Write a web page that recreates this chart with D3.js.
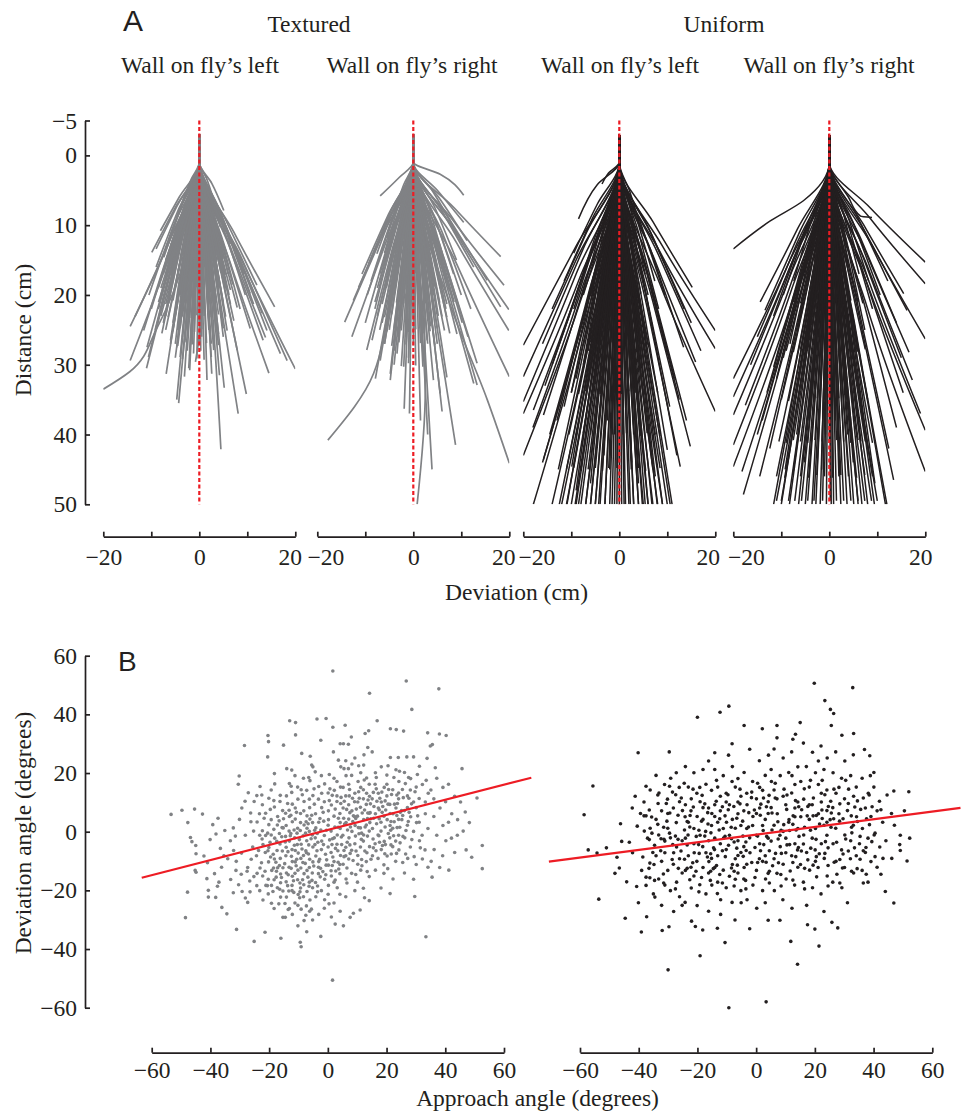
<!DOCTYPE html>
<html>
<head>
<meta charset="utf-8">
<script src="https://cdn.jsdelivr.net/npm/d3@7"></script>
<style>
body { margin: 0; background: #fff; }
text { font-family: "Liberation Serif", "Times New Roman", serif; font-size: 23.5px; fill: #231f20; }
.panel-letter { font-family: "Liberation Sans", Arial, sans-serif; }
.axis path, .axis line { stroke: #231f20; stroke-width: 1.7; }
.axis text { font-family: "Liberation Serif", "Times New Roman", serif; font-size: 23.5px; fill: #231f20; }
</style>
</head>
<body>
<div id="chart"></div>
<script>
// ---- panel A: trajectories, [deviation cm, distance cm], after the common start
var stem = [[0, -3], [0, 1]];

var texLeft = [
  [[-9,25],[-14.5,31],[-20,33.5]], [[-6.5,15],[-14.4,29.4]], [[-6,12],[-14.4,24.5]], [[-5.8,11.5],[-13.4,23.1]],
  [[-5,7.5],[-9.9,13.9]], [[-4.6,7.2],[-9,13.4]], [[-4.2,6],[-8.1,10.8]], [[-5.5,15.5],[-11,30.5]],
  [[-3.5,16],[-6.9,31.3]], [[-2.4,18],[-4.7,35]], [[-2,18],[-4.3,35.5]], [[-1.6,16],[-3.1,31.7]],
  [[-1,15.5],[-2.2,30.5]], [[0.8,15],[0.3,24],[-0.8,29.6]], [[2.6,21],[4.5,42.1]], [[3.8,18.5],[8.1,37]],
  [[4.6,17],[9.8,34.2]], [[2.6,16.5],[5.2,33.3]], [[2.2,15.5],[4.2,31.5]], [[6.5,15.5],[14.5,31.2]],
  [[8.5,14.5],[20,30.6]], [[6.4,13],[13.8,26.1]], [[7.2,11],[15.7,21.7]], [[6.2,11.2],[13.1,22.6]],
  [[5.6,9.4],[12,18.6]], [[3.8,14],[7.9,27.9]], [[-5.2,14.5],[-10.6,28.9]], [[6.4,13.3],[13.3,26.5]],
  [[5,12.4],[10.6,24.8]], [[3.8,11],[7.9,21.8]], [[3.5,12],[7.2,23.7]], [[2.8,12.6],[5.8,25.1]],
  [[2,12.8],[4,25.6]], [[1.6,14],[3,27.9]], [[1.4,15.6],[2.6,31.3]], [[0.9,16],[1.6,32.2]],
  [[-0.6,14.2],[-1.2,28.4]], [[-1,15.4],[-2,30.8]], [[-2,14.5],[-4,28.9]], [[-2.4,13.8],[-4.7,27.5]],
  [[-3,13.3],[-6,26.5]], [[-3.9,12.8],[-7.8,25.5]], [[-4.6,12.5],[-9.2,25]], [[-5.4,13.8],[-10.9,27.5]],
  [[-5.8,12.6],[-11.6,25.1]], [[-4.3,9.5],[-8.5,18.9]], [[-3.7,7.3],[-7.4,14.6]], [[-3.2,6.1],[-6.4,12.2]],
  [[-2.3,4.5],[-4.7,8.9]], [[-1.6,3.3],[-3.3,6.5]], [[1.5,3.3],[3,6.5]], [[2.2,5.2],[4.4,10.3]],
  [[2.6,4],[5.1,7.9]], [[3.2,6.4],[6.5,12.7]], [[3.9,7.3],[7.9,14.6]], [[4.6,8.5],[9.3,17]],
  [[5.3,9.9],[10.6,19.8]], [[5.6,10.7],[11.3,21.3]], [[7,12.6],[14.1,25.1]], [[8,14.2],[16.9,28.4]],
  [[8.8,14.7],[18.3,29.4]], [[-3.6,8.5],[-7,17]], [[-3,9],[-6,18]], [[-2.5,9.5],[-5,19]],
  [[-2,10],[-4,20]], [[-1.5,10.5],[-3,21]], [[-1,11],[-2,22]], [[-0.5,11.5],[-1,23]],
  [[0,12],[0,24]], [[0.5,11],[1,22]], [[1,10.5],[2,21]], [[1.5,10],[3,20]],
  [[2,9.5],[4,19]], [[2.5,9],[5,18]], [[3,8.5],[6,17]], [[-4,10],[-8,20]],
  [[-4.2,11],[-8.5,22]], [[-3.4,11.5],[-7,23]], [[-2.8,12],[-5.5,24]], [[-2.2,12.5],[-4.5,25]],
  [[-1.6,13],[-3.5,26]], [[-0.8,12.5],[-1.5,25]], [[0.4,13],[0.5,26]], [[1,12],[2,24]],
  [[1.7,11.5],[3.5,23]], [[2.4,10.7],[5,21.5]], [[3,10],[6.2,20]], [[3.4,9.3],[7,18.5]],
  [[-4.5,8],[-9,16]], [[-3.2,7.5],[-6.5,15]], [[-1.8,8],[-3.5,16]], [[-0.6,8.5],[-1.2,17]],
  [[0.6,8],[1.2,16]], [[1.8,7.5],[3.6,15]], [[-2.6,13.5],[-5,27]], [[-1.2,14],[-2.5,28]],
  [[0.2,14],[0.3,28]], [[1.2,13.5],[2.5,27]], [[2.6,13],[5,26]], [[-3.8,12],[-7.5,24]],
  [[-5,11],[-10,22]], [[-5.3,10],[-10.5,20]], [[4.2,11],[8.5,22]], [[4.8,10],[9.6,20]],
  [[-2.7,6.5],[-6,13]], [[-2,6.6],[-4.5,13.2]], [[-1.35,6.4],[-3,12.8]], [[-0.7,6.5],[-1.5,13]],
  [[0,6.6],[0,13.1]], [[0.7,6.4],[1.5,12.9]], [[1.35,6.5],[3,13]], [[1.9,6.6],[4.2,13.2]],
  [[-3.15,7.5],[-7,15]], [[-2.5,7.6],[-5.5,15.2]], [[-1.8,7.4],[-4,14.8]], [[-1.1,7.5],[-2.5,15]],
  [[-0.45,7.6],[-1,15.3]], [[0.2,7.4],[0.5,14.9]], [[0.9,7.5],[2,15.1]], [[1.6,7.6],[3.5,15.2]],
  [[2.25,7.4],[5,14.8]], [[-3.4,8.5],[-7.5,17]], [[-2.7,8.6],[-6,17.2]], [[-2,8.4],[-4.5,16.8]],
  [[-1.35,8.5],[-3,17.1]], [[-0.7,8.6],[-1.5,17.3]], [[0,8.4],[0,16.9]], [[0.7,8.5],[1.5,17]],
  [[1.35,8.6],[3,17.2]], [[2,8.4],[4.5,16.8]], [[2.5,8.5],[5.5,17.1]], [[-3.6,9.5],[-8,19]],
  [[-2.9,9.6],[-6.5,19.3]], [[-2.25,9.4],[-5,18.8]], [[-1.6,9.5],[-3.5,19.1]], [[-0.9,9.6],[-2,19.2]],
  [[-0.2,9.4],[-0.5,18.9]], [[0.45,9.5],[1,19]], [[1.1,9.6],[2.5,19.2]], [[1.8,9.4],[4,18.8]],
  [[2.5,9.5],[5.5,19.1]], [[2.9,9.6],[6.5,19.3]], [[-3.8,10.5],[-8.5,21]], [[-3.15,10.6],[-7,21.3]],
  [[-2.5,10.4],[-5.5,20.8]], [[-1.8,10.5],[-4,21.1]], [[-1.1,10.6],[-2.5,21.2]], [[-0.45,10.4],[-1,20.9]],
  [[0.2,10.5],[0.5,21]], [[0.9,10.6],[2,21.2]], [[1.6,10.4],[3.5,20.8]], [[2.25,10.5],[5,21.1]],
  [[2.9,10.6],[6.5,21.3]], [[-3.6,11.5],[-8,23]], [[-2.9,11.6],[-6.5,23.2]], [[-2.25,11.4],[-5,22.8]],
  [[-1.6,11.5],[-3.5,23.1]], [[-0.9,11.6],[-2,23.3]], [[-0.2,11.4],[-0.5,22.9]], [[0.45,11.5],[1,23]],
  [[1.1,11.6],[2.5,23.2]], [[1.8,11.4],[4,22.8]], [[2.5,11.5],[5.5,23.1]], [[-3.15,12.5],[-7,25]],
  [[-2.5,12.6],[-5.5,25.2]], [[-1.8,12.4],[-4,24.8]], [[-1.1,12.5],[-2.5,25.1]], [[-0.45,12.6],[-1,25.3]],
  [[0.2,12.4],[0.5,24.9]], [[0.9,12.5],[2,25]], [[1.6,12.6],[3.5,25.2]], [[2.25,12.4],[5,24.8]],
  [[-2.7,13.5],[-6,27]], [[-2,13.6],[-4.5,27.3]], [[-1.35,13.4],[-3,26.8]], [[-0.7,13.5],[-1.5,27.1]],
  [[0,13.6],[0,27.2]], [[0.7,13.4],[1.5,26.9]], [[1.35,13.5],[3,27]], [[1.8,13.6],[4,27.2]],
  [[-2.25,14.5],[-5,29]], [[-1.6,14.6],[-3.5,29.2]], [[-0.9,14.4],[-2,28.8]], [[-0.2,14.5],[-0.5,29.1]],
  [[0.45,14.6],[1,29.3]], [[1.1,14.4],[2.5,28.9]]
];

var texRight = [
  [[-3,3.2],[-6.9,5.8]], [[5.6,2.7],[10.5,5.7]], [[5,5],[10.5,9.6]], [[8.5,7.5],[18.2,14.5]],
  [[8.5,9.5],[18.9,18.6]], [[9,11],[19.9,22.1]], [[9,12.5],[19.9,25.1]], [[9,15.5],[20,31.7]],
  [[8,22],[15.4,35],[20,44.1]], [[4,20.5],[8.8,41.5]], [[2,22.5],[3.9,45]], [[2,18],[2.5,33.6],[0.8,50]],
  [[-5.2,8.5],[-10.7,17]], [[-6.8,12],[-14.3,23.9]], [[-6,13],[-12.8,26]], [[-4.6,14],[-9.7,27.9]],
  [[-3.7,16],[-7.9,32]], [[-2.3,16],[-4.8,32.2]], [[-0.9,18],[-1.9,36.3]], [[-4.2,17],[-8.3,31.3],[-17.8,40.8]],
  [[3,18.3],[6,36.7]], [[6.4,16.5],[13.3,32.9]], [[6.5,15],[13.3,29.8]], [[6,16.3],[12.6,32.7]],
  [[4.4,12.8],[9.1,25.6]], [[3.4,16],[7,31.8]], [[2.7,17],[5.6,34.1]], [[2,16],[4.2,32.2]],
  [[1.4,13.2],[2.9,26.5]], [[-1,15.1],[-2,30.3]], [[-1.6,14.2],[-3.4,28.4]], [[-2.3,15.6],[-4.8,31.3]],
  [[-3.3,14.7],[-6.9,29.4]], [[-4.1,13.2],[-8.6,26.5]], [[-6,10.4],[-12.5,20.8]], [[-5.4,9.4],[-11.4,18.9]],
  [[-4.5,7.7],[-9.3,15.5]], [[-3.7,7],[-7.6,14.1]], [[-2.7,5.9],[-5.5,11.8]], [[-2,4.2],[-4.1,8.4]],
  [[-1.3,3.5],[-2.7,7]], [[4,5.1],[8.4,10.3]], [[5.4,6.1],[11.2,12.2]], [[6,8],[12.6,16]],
  [[7.4,9],[15.4,17.9]], [[8.6,10.8],[18.2,21.7]], [[0.8,19],[1.5,38]], [[1.5,20],[3,40]],
  [[-0.4,19],[-0.8,37]], [[-3.5,9],[-7,18]], [[-2.8,9.5],[-5.6,19]], [[-2.1,10],[-4.2,20]],
  [[-1.4,10.5],[-2.8,21]], [[-0.7,11],[-1.4,22]], [[0,11.5],[0,23]], [[0.7,11],[1.4,22]],
  [[1.4,10.5],[2.8,21]], [[2.1,10],[4.2,20]], [[2.8,9.5],[5.6,19]], [[3.5,9],[7,18]],
  [[4.2,8.5],[8.4,17]], [[-4,11],[-8,22]], [[-3.2,12],[-6.5,24]], [[-2.4,12.5],[-5,25]],
  [[-1.6,13],[-3.2,26]], [[-0.8,13],[-1.6,26]], [[0.2,12.5],[0.4,25]], [[1,12.8],[2,25.5]],
  [[1.8,12.2],[3.6,24.5]], [[2.6,11.5],[5.2,23]], [[3.4,11],[6.8,22]], [[4.2,10.5],[8.5,21]],
  [[5,10],[10,20]], [[-4.8,10],[-9.6,20]], [[-4.4,9],[-8.8,18]], [[-3,7],[-6,14]],
  [[-1.5,7.5],[-3,15]], [[0,8],[0,16]], [[1.5,7.5],[3,15]], [[3,7],[6,14]],
  [[4.5,7.5],[9,15]], [[-2,14],[-4,28]], [[-0.5,14.5],[-1,29]], [[1,14.2],[2,28.5]],
  [[2.5,13.5],[5,27]], [[3.8,12.8],[7.6,25.5]], [[5,12],[10.2,24]], [[-3,13.5],[-6,27]],
  [[-5,12],[-10,24]], [[6,11],[12,22]], [[5.6,13],[11.4,26]],
  [[-2.25,6.5],[-5,13]], [[-1.6,6.6],[-3.5,13.2]], [[-0.9,6.4],[-2,12.8]], [[-0.2,6.5],[-0.5,13]],
  [[0.45,6.6],[1,13.1]], [[1.1,6.4],[2.5,12.9]], [[1.8,6.5],[4,13]], [[2.25,6.6],[5,13.2]],
  [[-2.7,7.5],[-6,15]], [[-2,7.6],[-4.5,15.2]], [[-1.35,7.4],[-3,14.8]], [[-0.7,7.5],[-1.5,15.1]],
  [[0,7.6],[0,15.2]], [[0.7,7.4],[1.5,14.9]], [[1.35,7.5],[3,15]], [[2,7.6],[4.5,15.2]],
  [[2.7,7.4],[6,14.8]], [[-3.15,8.5],[-7,17]], [[-2.5,8.6],[-5.5,17.2]], [[-1.8,8.4],[-4,16.8]],
  [[-1.1,8.5],[-2.5,17.1]], [[-0.45,8.6],[-1,17.3]], [[0.2,8.4],[0.5,16.9]], [[0.9,8.5],[2,17]],
  [[1.6,8.6],[3.5,17.2]], [[2.25,8.4],[5,16.8]], [[2.9,8.5],[6.5,17.1]], [[-3.4,9.5],[-7.5,19]],
  [[-2.7,9.6],[-6,19.3]], [[-2,9.4],[-4.5,18.8]], [[-1.35,9.5],[-3,19.1]], [[-0.7,9.6],[-1.5,19.2]],
  [[0,9.4],[0,18.9]], [[0.7,9.5],[1.5,19]], [[1.35,9.6],[3,19.2]], [[2,9.4],[4.5,18.8]],
  [[2.7,9.5],[6,19.1]], [[3.4,9.6],[7.5,19.3]], [[-3.6,10.5],[-8,21]], [[-2.9,10.6],[-6.5,21.3]],
  [[-2.25,10.4],[-5,20.8]], [[-1.6,10.5],[-3.5,21.1]], [[-0.9,10.6],[-2,21.2]], [[-0.2,10.4],[-0.5,20.9]],
  [[0.45,10.5],[1,21]], [[1.1,10.6],[2.5,21.2]], [[1.8,10.4],[4,20.8]], [[2.5,10.5],[5.5,21.1]],
  [[3.15,10.6],[7,21.3]], [[-3.4,11.5],[-7.5,23]], [[-2.7,11.6],[-6,23.2]], [[-2,11.4],[-4.5,22.8]],
  [[-1.35,11.5],[-3,23.1]], [[-0.7,11.6],[-1.5,23.3]], [[0,11.4],[0,22.9]], [[0.7,11.5],[1.5,23]],
  [[1.35,11.6],[3,23.2]], [[2,11.4],[4.5,22.8]], [[2.7,11.5],[6,23.1]], [[3.15,11.6],[7,23.2]],
  [[-3.15,12.5],[-7,25]], [[-2.5,12.6],[-5.5,25.2]], [[-1.8,12.4],[-4,24.8]], [[-1.1,12.5],[-2.5,25.1]],
  [[-0.45,12.6],[-1,25.3]], [[0.2,12.4],[0.5,24.9]], [[0.9,12.5],[2,25]], [[1.6,12.6],[3.5,25.2]],
  [[2.25,12.4],[5,24.8]], [[2.9,12.5],[6.5,25.1]], [[-2.7,13.5],[-6,27]], [[-2,13.6],[-4.5,27.3]],
  [[-1.35,13.4],[-3,26.8]], [[-0.7,13.5],[-1.5,27.1]], [[0,13.6],[0,27.2]], [[0.7,13.4],[1.5,26.9]],
  [[1.35,13.5],[3,27]], [[2,13.6],[4.5,27.2]], [[-1.8,15],[-4,30]], [[-1.1,15.1],[-2.5,30.2]],
  [[-0.45,14.9],[-1,29.8]], [[0.2,15],[0.5,30.1]], [[0.9,15.1],[2,30.3]]
];

var uniLeft = [
  [[9,13],[20,25.1]], [[9,14.5],[20,27.7]], [[8.5,18.5],[20,36.7]], [[7,9.5],[15.2,18.9]],
  [[7.4,15],[15.9,29.6]], [[7,21],[14.8,41.7]], [[6,22.5],[12.7,44.6]], [[5,25],[10.6,50]],
  [[2.2,5.2],[4.4,10.3]], [[-4.6,4.2],[-8.5,9.1]], [[-2.2,2.5],[-3.6,4.1]], [[-9,13],[-20,27.2]],
  [[-9,15],[-20,31.7]], [[-9,17],[-20,35.3]], [[-8.5,18],[-20,37]], [[-8,18],[-17.9,36.5]],
  [[-7.2,18.5],[-15.8,37.2]], [[-6.8,21.5],[-15.8,43.6]], [[-7.6,25],[-17.9,50]], [[-4.8,25],[-10.9,50]],
  [[-4,25],[-9.2,50]], [[-3.6,25],[-8.5,50]], [[-2.2,25],[-5,50]], [[-1.8,25],[-4.3,50]],
  [[0.5,25],[1.3,50]], [[1,25],[2.3,50]], [[1.8,25],[4,50]], [[2.5,25],[5.4,50]],
  [[3.2,25],[6.8,50]], [[3.8,25],[7.9,50]], [[5.2,25],[11,50]], [[-1,22.4],[-2.2,44.8]],
  [[-5.8,22.5],[-12.7,45]], [[-4.6,22.3],[-9.9,44.6]], [[-3.6,20.8],[-7.8,41.7]], [[2.8,20],[5.8,39.8]],
  [[4.8,21],[10,42.2]], [[6.5,13.5],[13.4,27.5]], [[4.8,14.2],[10,28.4]], [[5.6,16],[11.5,32]],
  [[6,17.5],[12.5,35]], [[5,18],[10.5,36]], [[-6,25],[-14,50]], [[-5.4,25],[-12.5,50]],
  [[-3,25],[-7,50]], [[-2.6,25],[-6,50]], [[-1.2,25],[-3,50]], [[-0.6,25],[-1.5,50]],
  [[-0.2,25],[-0.5,50]], [[0.2,25],[0.5,50]], [[1.4,25],[3,50]], [[2.2,25],[4.8,50]],
  [[2.8,25],[6,50]], [[4.2,25],[9,50]], [[4.6,25],[10,50]], [[-7,22],[-16,44]],
  [[-6.5,20],[-14.5,40]], [[-6,19],[-13,38]], [[-5.4,18],[-11.5,36]], [[-4.8,17],[-10,34]],
  [[-4.2,16],[-9,32]], [[-3.6,15],[-7.5,30]], [[-3,14],[-6.5,28]], [[-2.4,16],[-5,32]],
  [[-1.8,17.5],[-3.8,35]], [[-1.2,19],[-2.5,38]], [[-0.5,20],[-1,40]], [[0.4,20],[0.8,40]],
  [[1,18.5],[2,37]], [[1.6,17],[3.3,34]], [[2.2,15.5],[4.5,31]], [[2.8,14],[5.8,28]],
  [[3.4,12.5],[7,25]], [[4,11],[8.2,22]], [[4.6,10],[9.5,20]], [[-5.2,12],[-11,24]],
  [[-4.4,11],[-9.5,22]], [[-3.6,10],[-7.8,20]], [[-2.6,9],[-5.6,18]], [[-1.6,8],[-3.4,16]],
  [[-0.6,7],[-1.2,14]], [[0.6,7.5],[1.2,15]], [[1.6,8],[3.4,16]], [[2.6,8.5],[5.4,17]],
  [[3.6,9],[7.4,18]], [[-6.5,15],[-14,30]], [[-7.2,16.5],[-15.5,33]], [[-8,19.5],[-18,39]],
  [[-8.4,21.5],[-20,43]], [[-7.6,13.5],[-16,27]], [[-6.8,11],[-14,22]], [[-5.6,9],[-11.5,18]],
  [[-4.6,7],[-9.5,14]], [[6.5,11],[13.5,22]], [[7.2,12],[15,24]], [[8,14],[17,28]],
  [[6.8,19],[14,38]], [[6,21.5],[12,43]], [[3.6,23],[7.5,46]], [[2,23.5],[4,47]],
  [[-2.8,23.5],[-6,47]], [[-4.2,24],[-9,48]], [[0,22],[0,44]], [[-1.5,21.5],[-3.2,43]],
  [[1.2,22],[2.6,44]],
  [[-5,25],[-12,50]], [[-4.6,25],[-11,50]], [[-4.2,25],[-10,50]], [[-3.8,25],[-9,50]],
  [[-3.4,25],[-8,50]], [[-2.9,25],[-7,50]], [[-2.5,25],[-6,50]], [[-2.1,25],[-5,50]],
  [[-1.7,25],[-4,50]], [[-1.3,25],[-3,50]], [[-0.8,25],[-2,50]], [[-0.4,25],[-1,50]],
  [[0,25],[0,50]], [[0.4,25],[1,50]], [[0.8,25],[2,50]], [[1.3,25],[3,50]],
  [[1.7,25],[4,50]], [[2.1,25],[5,50]], [[2.5,25],[6,50]], [[2.9,25],[7,50]],
  [[3.4,25],[8,50]], [[3.8,25],[9,50]], [[-4.6,22.5],[-11,45]], [[-4,22.4],[-9.5,44.8]],
  [[-3.4,22.6],[-8,45.2]], [[-2.7,22.5],[-6.5,45]], [[-2.1,22.4],[-5,44.8]], [[-1.5,22.6],[-3.5,45.2]],
  [[-0.8,22.5],[-2,45]], [[-0.2,22.4],[-0.5,44.8]], [[0.4,22.6],[1,45.2]], [[1.05,22.5],[2.5,45]],
  [[1.7,22.4],[4,44.8]], [[2.3,22.6],[5.5,45.2]], [[2.9,22.5],[7,45]], [[3.6,22.4],[8.5,44.8]],
  [[-4.4,20],[-10.5,40]], [[-3.8,20.1],[-9,40.2]], [[-3.15,19.9],[-7.5,39.8]], [[-2.5,20],[-6,40]],
  [[-1.9,20.1],[-4.5,40.2]], [[-1.3,19.9],[-3,39.8]], [[-0.6,20],[-1.5,40]], [[0,20.1],[0,40.2]],
  [[0.6,19.9],[1.5,39.8]], [[1.3,20],[3,40]], [[1.9,20.1],[4.5,40.2]], [[2.5,19.9],[6,39.8]],
  [[3.15,20],[7.5,40]], [[3.6,20.1],[8.5,40.2]], [[-4.2,17],[-10,34]], [[-3.6,17.1],[-8.5,34.2]],
  [[-2.9,16.9],[-7,33.8]], [[-2.3,17],[-5.5,34]], [[-1.7,17.1],[-4,34.2]], [[-1.05,16.9],[-2.5,33.8]],
  [[-0.4,17],[-1,34]], [[0.2,17.1],[0.5,34.2]], [[0.8,16.9],[2,33.8]], [[1.5,17],[3.5,34]],
  [[2.1,17.1],[5,34.2]], [[2.7,16.9],[6.5,33.8]], [[3.4,17],[8,34]], [[-3.8,13.5],[-9,27]],
  [[-3.15,13.6],[-7.5,27.2]], [[-2.5,13.4],[-6,26.8]], [[-1.9,13.5],[-4.5,27]], [[-1.3,13.6],[-3,27.2]],
  [[-0.6,13.4],[-1.5,26.8]], [[0,13.5],[0,27]], [[0.6,13.6],[1.5,27.2]], [[1.3,13.4],[3,26.8]],
  [[1.9,13.5],[4.5,27]], [[2.5,13.6],[6,27.2]], [[-3.15,10],[-7.5,20]], [[-2.5,10.1],[-6,20.2]],
  [[-1.9,9.9],[-4.5,19.8]], [[-1.3,10],[-3,20]], [[-0.6,10.1],[-1.5,20.2]], [[0,9.9],[0,19.8]],
  [[0.6,10],[1.5,20]], [[1.3,10.1],[3,20.2]], [[1.9,9.9],[4.5,19.8]], [[2.5,10],[6,20]]
];

var uniRight = [
  [[-5.4,6.5],[-12.3,9.4],[-20,13.4]], [[4,6],[6.5,8.7],[8.9,8.9]], [[8.5,7.5],[20,15.3]], [[8.5,9],[20,18.4]],
  [[9,13],[20,26.3]], [[8.5,19.5],[20,39.4]], [[8,22],[20,45.3]], [[7.2,10],[15.5,19.8]],
  [[7.5,11],[16.2,22.2]], [[7.7,14],[16.6,28.2]], [[8,16],[17.3,32.2]], [[6.2,23],[13.4,46.5]],
  [[5.5,25],[12,50]], [[-6.6,10.5],[-14.4,21]], [[-6.2,11],[-13.4,22.2]], [[-8.5,15.5],[-20,32]],
  [[-8.5,16.5],[-20,34.6]], [[-8.3,17.5],[-20,37.2]], [[-8,19.5],[-20,41.5]], [[-7.8,21],[-20,44.6]],
  [[-7.6,22],[-18.2,45.3]], [[-7.6,23.5],[-17.9,48.6]], [[-5.2,25],[-11.6,50]], [[-2.8,25],[-6.4,50]],
  [[-1.6,25],[-3.6,50]], [[-0.8,25],[-1.9,50]], [[0.5,25],[0.9,50]], [[1.8,25],[3.7,50]],
  [[2.4,25],[5.1,50]], [[3.2,25],[6.8,50]], [[5.4,25],[11.7,50]], [[8.5,18.5],[19,37]],
  [[-7.8,18],[-17.5,35.8]], [[-5.4,15],[-11.6,30.3]], [[4,21.5],[8.2,42.7]], [[4.6,23.5],[9.5,47]],
  [[-6.4,23],[-14.5,46]], [[-6.8,20],[-15,40]], [[-4.4,25],[-10,50]], [[-3.6,25],[-8.3,50]],
  [[-2.2,25],[-5,50]], [[-1.2,25],[-2.8,50]], [[-0.3,25],[-0.6,50]], [[0.2,25],[0.4,50]],
  [[1.1,25],[2.4,50]], [[2.8,25],[6,50]], [[3.8,25],[8,50]], [[4.4,25],[9.4,50]],
  [[-6,17],[-13,34]], [[-5.2,16],[-11,32]], [[-4.6,14.5],[-9.6,29]], [[-4,13.5],[-8.2,27]],
  [[-3.2,12.5],[-6.6,25]], [[-2.4,14],[-5,28]], [[-1.6,16],[-3.4,32]], [[-1,18],[-2,36]],
  [[-0.4,20],[-0.8,40]], [[0.6,19],[1.2,38]], [[1.4,17],[2.8,34]], [[2,15.5],[4.2,31]],
  [[2.8,14],[5.8,28]], [[3.6,12.5],[7.4,25]], [[4.4,11],[9,22]], [[5.2,10],[10.6,20]],
  [[6,9],[12.2,18]], [[-5.6,11.5],[-11.6,23]], [[-4.6,10],[-9.6,20]], [[-3.6,9],[-7.4,18]],
  [[-2.6,8],[-5.4,16]], [[-1.6,7.5],[-3.2,15]], [[-0.4,7],[-0.8,14]], [[0.8,7.5],[1.6,15]],
  [[2,8],[4,16]], [[3,8.5],[6.2,17]], [[4,9],[8.2,18]], [[6.6,12],[14,24]],
  [[7,14.5],[15,29]], [[7.2,17],[15.4,34]], [[6.6,19.5],[14,39]], [[5.8,21],[12.4,42]],
  [[-7,13],[-15,26]], [[-7.6,15],[-16.4,30]], [[-6.4,19],[-14,38]], [[-5.6,21],[-12.4,42]],
  [[-4.2,22.5],[-9.2,45]], [[-2.4,22],[-5.2,44]], [[-0.8,22.5],[-1.6,45]], [[1,23],[2,46]],
  [[2.4,22],[5,44]], [[3.2,20.5],[6.6,41]], [[-3.2,20],[-6.8,40]], [[-2,19],[-4.2,38]],
  [[1.8,20],[3.8,40]],
  [[-4.6,24.8],[-11,49.5]], [[-4.2,24.8],[-10,49.5]], [[-3.6,24.8],[-8.5,49.5]], [[-3,24.8],[-7.2,49.5]],
  [[-2.4,24.8],[-5.8,49.5]], [[-1.9,24.8],[-4.5,49.5]], [[-1.3,24.8],[-3.2,49.5]], [[-0.6,24.8],[-1.4,49.5]],
  [[0.1,24.8],[0.2,49.5]], [[0.6,24.8],[1.5,49.5]], [[1.3,24.8],[3,49.5]], [[1.9,24.8],[4.5,49.5]],
  [[2.5,24.8],[6,49.5]], [[3.1,24.8],[7.4,49.5]], [[3.7,24.8],[8.8,49.5]], [[4.2,24.8],[10,49.5]],
  [[-4.6,23],[-11,46]], [[-3.9,23.1],[-9.3,46.2]], [[-3.2,22.9],[-7.6,45.8]], [[-2.5,23],[-6,46]],
  [[-1.8,23.1],[-4.3,46.2]], [[-1.1,22.9],[-2.6,45.8]], [[-0.4,23],[-1,46]], [[0.3,23.1],[0.7,46.2]],
  [[1,22.9],[2.4,45.8]], [[1.7,23],[4,46]], [[2.4,23.1],[5.7,46.2]], [[3.1,22.9],[7.4,45.8]],
  [[3.8,23],[9,46]], [[-4.4,20.5],[-10.5,41]], [[-3.8,20.6],[-9,41.2]], [[-3.15,20.4],[-7.5,40.8]],
  [[-2.5,20.5],[-6,41]], [[-1.9,20.6],[-4.5,41.2]], [[-1.3,20.4],[-3,40.8]], [[-0.6,20.5],[-1.5,41]],
  [[0,20.6],[0,41.2]], [[0.6,20.4],[1.5,40.8]], [[1.3,20.5],[3,41]], [[1.9,20.6],[4.5,41.2]],
  [[2.5,20.4],[6,40.8]], [[3.15,20.5],[7.5,41]], [[3.8,20.6],[9,41.2]], [[-4.2,17.5],[-10,35]],
  [[-3.6,17.6],[-8.5,35.2]], [[-2.9,17.4],[-7,34.8]], [[-2.3,17.5],[-5.5,35]], [[-1.7,17.6],[-4,35.2]],
  [[-1.05,17.4],[-2.5,34.8]], [[-0.4,17.5],[-1,35]], [[0.2,17.6],[0.5,35.2]], [[0.8,17.4],[2,34.8]],
  [[1.5,17.5],[3.5,35]], [[2.1,17.6],[5,35.2]], [[2.7,17.4],[6.5,34.8]], [[3.4,17.5],[8,35]],
  [[-3.8,14],[-9,28]], [[-3.15,14.1],[-7.5,28.2]], [[-2.5,13.9],[-6,27.8]], [[-1.9,14],[-4.5,28]],
  [[-1.3,14.1],[-3,28.2]], [[-0.6,13.9],[-1.5,27.8]], [[0,14],[0,28]], [[0.6,14.1],[1.5,28.2]],
  [[1.3,13.9],[3,27.8]], [[1.9,14],[4.5,28]], [[2.5,14.1],[6,28.2]], [[3.15,13.9],[7.5,27.8]],
  [[-3.15,10.5],[-7.5,21]], [[-2.5,10.6],[-6,21.2]], [[-1.9,10.4],[-4.5,20.8]], [[-1.3,10.5],[-3,21]],
  [[-0.6,10.6],[-1.5,21.2]], [[0,10.4],[0,20.8]], [[0.6,10.5],[1.5,21]], [[1.3,10.6],[3,21.2]],
  [[1.9,10.4],[4.5,20.8]], [[2.5,10.5],[6,21]], [[3,10.6],[7,21.2]]
];

var panelTitles = ["Wall on fly\u2019s left", "Wall on fly\u2019s right", "Wall on fly\u2019s left", "Wall on fly\u2019s right"];
var groupTitles = ["Textured", "Uniform"];
var devTicks = [-20, -10, 0, 10, 20];
var devLabels = [-20, 0, 20];
var distTicks = [-5, 0, 10, 20, 30, 40, 50];

// ---- panel B: [approach angle, deviation angle]
var texturedPts = [
  [-53.4,5.9],[-49.7,7.3],[-47.7,3.1],[-46.8,-2],[-46.3,-3.4],[-48.5,-29.3],[-47.8,-20.6],[-45.4,7.7],[-45,-4.7],[-44.9,-7.5],[-45.2,-13.2],[-44.9,-13.8],
  [-42.7,6],[-41.2,-16],[-40.7,-20],[-40.7,-22.3],[-42.2,-8.3],[-41,-10.6],[-40.1,-2.7],[-39.2,2.4],[-38.1,-0.8],[-37.4,4.6],[-38.6,-14.3],[-37.1,-17.2],[-36.2,-12.1],[-36.6,-5.7],[-35.4,-8.2],[-35.1,0.4],[-38.2,-22.4],[-36.1,-25.8],[-37.6,-18.6],
  [-34.4,-28],[-31.1,-33.3],[-30.2,19],[-30.5,16.2],[-28.4,29.4],[-33.2,-3.1],[-32.1,-6.4],[-31.3,-13.2],[-33.1,-16.3],[-30.4,-18.1],[-29.2,-20.4],[-28.1,-22.6],[-27.3,-24.1],[-32.2,1.3],[-30.1,4.2],[-29.3,8.1],[-28.2,10.4],[-27.1,13.3],[-26.2,3.4],[-25.6,-5.2],[-26.1,-9.4],[-27.3,-12.2],[-25.2,-15.3],[-26.6,-16.8],[-31.2,-10.1],[-28.1,-1.2],[-29.4,-7.3],[-34.1,-9.2],[-32.2,-20.8],[-25.1,10.3],[-26.3,6.4],[-25.3,0.2],
  [-20.4,32.8],[-20.2,30.7],[-20.5,25.5],[-18.2,19.8],[-25.1,-37.4],[-21.4,-34.3],[-24.2,12.3],[-23.1,15.4],[-22.3,9.2],[-21.2,6.3],[-20.1,11.4],[-19.3,14.2],[-18.2,8.4],[-17.1,5.2],[-16.3,10.3],[-24.1,3.3],[-23.2,-1.2],[-22.1,-4.4],[-21.3,-7.1],[-20.2,-10.3],[-19.1,-13.2],[-18.3,-16.4],[-17.2,-19.1],[-16.1,-22.3],[-24.3,-8.2],[-23.1,-12.4],[-22.2,-15.1],[-21.1,-18.3],[-20.3,-21.2],[-19.2,-24.4],[-18.1,-2.2],[-17.3,-6.4],[-16.2,-9.1],[-15.3,-12.3],[-24.2,-18.4],[-22.1,-23.3],[-18.3,-26.2],[-16.1,-14.4],[-17.2,2.3],[-19.3,-1.1],[-20.1,2.4],[-21.2,-1.3],[-23.3,6.1],[-16.3,-4.2],[-15.2,1.3],[-15.1,4.4],[-18.2,-9.3],[-23.2,-20.1],[-20.3,-16.2],[-16.1,-17.4],[-15.3,-20.2],[-17.1,-12.3],[-24.1,-14.2],[-19.2,-18.3],[-20.1,-5.4],[-22.3,0.3],[-15.4,7.2],[-16.2,12.4],[-18.1,16.3],[-19.3,4.1],
  [-13,37.8],[-11,37.2],[-11,33],[-15.1,29.5],[-8.9,26.7],[-6,25.7],[-14,21.5],[-12.3,21],[-5.5,22.7],[-5.1,22.1],[-9.4,-37.7],[-9.1,-39.2],[-15.3,-29.2],[-14.5,-29.2],[-16,-36.3],[-10.2,-32.1],[-8.1,-30.3],[-7.2,-34.1],[-13.1,-26.2],[-11.2,-24.3],[-9.1,-26.4],[-6.2,-27.1],[-14.1,-22.3],[-12.2,-20.1],[-10.1,-21.4],[-8.3,-22.2],[-6.1,-23.3],[-14.2,-17.1],[-12.1,-15.2],[-10.3,-16.4],[-8.2,-18.1],[-6.3,-17.2],[-13.2,-12.1],[-11.1,-10.3],[-9.2,-12.4],[-7.1,-13.2],[-5.3,-14.1],[-14.3,-8.2],[-12.2,-6.1],[-10.1,-7.3],[-8.3,-8.1],[-6.2,-9.4],[-13.1,-3.2],[-11.3,-2.1],[-9.1,-4.3],[-7.2,-3.1],[-5.1,-5.2],[-14.2,2.1],[-12.1,3.4],[-10.3,1.2],[-8.1,2.3],[-6.3,0.1],[-13.2,7.3],[-11.1,8.1],[-9.3,6.2],[-7.1,5.4],[-5.2,3.1],[-14.1,12.2],[-12.3,13.4],[-10.2,11.1],[-8.1,10.3],[-6.2,8.2],[-13.1,16.4],[-10.3,15.2],[-7.2,14.1],[-5.1,12.3],[-11.2,19.1],[-8.3,18.2],[-6.1,17.4],[-14.2,-5.3],[-12.1,-10.2],[-10.2,-13.1],[-8.1,-14.3],[-6.3,-12.2],[-14.1,-14.1],[-12.2,-18.3],[-9.3,-19.2],[-7.1,-20.4],[-5.2,-19.1],[-13.3,-20.2],[-11.1,-6.4],[-9.2,-9.1],[-7.3,-7.2],[-5.1,-10.3],[-13.2,0.2],[-11.1,4.3],[-9.3,3.1],[-7.1,1.2],[-5.3,-1.1],[-12.1,9.4],[-8.2,7.1],[-6.1,4.3],[-10.2,-25.1],[-7.3,-25.3],[-12.1,-28.2],[-5.2,-30.1],[-13.1,5.2],[-9.1,14.3],[-6.3,11.1],[-11.2,-14.2],
  [1.7,54.8],[-3.7,38.4],[-0.6,38.6],[1.7,35.6],[-2.4,31.2],[1.9,27.2],[3.6,24.4],[4.4,22.1],[-4.3,20.4],[1.6,-50.6],[-2.4,-35.7],[5.3,-32.1],[-3.1,-28.2],[-1.2,-26.1],[2.1,-24.3],[4.2,-27.1],[-4.1,-22.2],[-2.2,-20.1],[0.1,-21.3],[3.2,-19.1],[-4.2,-17.3],[-1.1,-16.2],[1.2,-15.1],[4.1,-14.3],[-3.2,-12.1],[0.2,-11.4],[2.1,-10.2],[4.3,-8.1],[-4.1,-8.3],[-2.2,-6.1],[0.1,-5.2],[3.1,-4.3],[-4.3,-2.1],[-1.2,-1.3],[1.1,0.2],[4.2,1.1],[-3.1,3.2],[0.2,4.1],[2.1,5.3],[4.1,6.2],[-4.2,6.1],[-2.1,8.2],[1.2,9.1],[3.1,10.3],[-3.2,11.1],[0.1,13.2],[2.2,14.1],[4.3,15.2],[-1.1,16.3],[2.1,18.2],[-3.1,15.4],[3.2,-1.1],[-2.1,-3.2],[1.1,-7.1],[-3.2,-14.3],[2.1,-17.2],[4.1,-21.3],[-1.1,-23.2],[1.2,-29.1],[-4.1,1.3],[0.2,7.1],[3.1,12.2],[-2.2,19.1],[0.1,2.2],[2.2,-2.1],[-3.1,-10.2],[1.1,-13.3],[4.2,3.1],[-1.2,10.2],[3.1,17.1],[4.1,-11.2],[-2.1,13.1],[0.2,-18.3],
  [14.2,47.2],[8,32.3],[5.9,36.3],[4.2,30],[5.3,30],[7,29.8],[12.7,33.5],[13.9,34.4],[13.6,28.7],[7,21.5],[12.2,22.7],[7.6,-29.2],[8.7,-27.8],[11,-26.7],[14.1,-23.5],[6.1,-22.2],[9.2,-20.1],[12.1,-19.3],[6.2,-16.1],[8.1,-14.2],[11.2,-13.1],[14.1,-15.3],[5.2,-11.1],[7.1,-9.3],[10.2,-8.1],[13.1,-10.2],[6.1,-5.3],[9.2,-4.1],[12.1,-3.2],[14.2,-5.1],[5.1,-1.2],[8.2,0.1],[11.1,1.3],[14.1,0.2],[6.2,3.1],[9.1,5.2],[12.2,4.1],[14.1,6.3],[5.2,8.1],[7.1,9.2],[10.2,10.1],[13.1,9.3],[6.1,12.2],[9.2,13.1],[12.1,14.3],[14.2,12.1],[7.1,16.2],[10.3,17.1],[13.2,18.3],[8.1,19.2],[11.2,20.1],[6.1,24.2],[9.2,25.1],[12.3,26.2],[10.1,-17.2],[7.2,-2.1],[13.1,2.3],[8.2,7.1],[11.1,8.3],[5.2,15.1],[12.1,11.2],[9.3,2.1],[6.1,-8.2],[10.2,-11.1],[13.3,-7.2],[7.1,4.3],[11.2,15.1],[14.1,16.2],[8.1,-6.3],[12.2,-1.1],[9.1,10.2],[14.3,3.1],[6.2,19.1],[10.1,5.3],[13.2,13.1],[7.3,12.2],[11.1,-5.2],[8.2,23.1],
  [16.8,37.8],[21.3,35.1],[23.3,34.8],[21.3,25.3],[24,25.3],[15.1,27.2],[18.2,22.1],[20.1,19.3],[23.2,21.1],[16.1,16.2],[19.2,15.1],[22.1,14.3],[24.2,17.1],[15.1,11.2],[18.2,10.1],[21.1,9.3],[24.1,11.2],[16.2,6.1],[19.1,5.3],[22.2,6.1],[24.1,4.2],[15.2,1.1],[18.1,0.2],[21.2,2.1],[24.1,-1.2],[16.1,-4.1],[19.2,-3.3],[22.1,-5.1],[24.2,-6.2],[17.1,-9.1],[20.2,-8.3],[23.1,-10.1],[16.2,-13.1],[19.1,-14.2],[22.2,-16.1],[18.1,-19.2],[21.2,-21.1],[17.2,8.1],[20.1,12.2],[23.2,8.1],[18.1,3.2],[21.1,-2.1],[15.2,-8.2],[19.1,-11.3],[22.1,1.2],[17.2,13.1],[20.1,16.2],[16.2,20.1],[23.1,-3.2],[25.1,7.2],[20.2,4.1],[17.1,-1.1],[21.2,6.2],[24.1,13.2],[18.2,-6.1],
  [26.7,51.4],[28.6,41.7],[25.8,34.3],[34,33.7],[34.9,29.2],[35.6,29.7],[26.9,25.5],[29.2,25.5],[31.2,22.3],[33.8,25],[29.6,-22.1],[33.4,-35.8],[26.1,20.2],[28.2,18.1],[30.1,15.2],[32.2,16.1],[27.1,12.2],[29.2,10.1],[31.1,11.3],[34.2,13.1],[26.1,7.2],[28.2,5.1],[30.1,8.2],[33.2,6.1],[27.1,2.2],[29.2,0.1],[31.1,3.2],[34.1,1.1],[26.2,-2.1],[28.1,-5.2],[31.2,-3.1],[33.1,-6.2],[27.2,-9.1],[30.1,-11.2],[32.2,-9.3],[26.1,-14.1],[29.2,-16.2],[34.1,-12.1],[28.1,14.2],[32.1,-1.2],[25.2,4.1],[30.2,3.1],[27.1,8.2],[33.2,10.1],
  [37.8,48.7],[38,33.3],[40.3,32.8],[36.6,21.8],[45.7,21.5],[37.1,18.2],[39.2,15.1],[41.1,16.2],[43.2,12.1],[36.1,11.2],[38.2,8.1],[40.1,10.2],[42.2,6.1],[36.1,5.2],[39.2,2.1],[41.1,3.2],[44.2,4.1],[37.1,-1.2],[40.2,-3.1],[42.1,-2.2],[36.2,-6.1],[39.1,-8.2],[43.2,-7.1],[38.1,-12.2],[41.2,-13.1],[35.2,-10.1],[44.1,-1.2],[35.1,14.2],
  [50.8,11.5],[46.8,6.7],[52.6,-4.7],[52.6,-12.6],[49,-8.7],[46.1,0.2],[48.2,3.1],[47.1,-6.2],[45.2,10.1],
  [-18.6,-7.7],[-17.4,-3.3],[-16.5,-0.6],[-15.8,-15.6],[-14.7,-10.9],[-13.6,-6.8],[-12.8,-1.4],[-11.7,-16.7],[-10.8,-11.6],[-9.7,-2.7],[-8.8,-5.9],[-7.7,-10.8],[-6.8,-15.5],[-5.7,-2.4],[-4.8,-11.7],[-3.7,-6.5],[-2.8,-9.4],[-1.7,-13.6],[-0.8,-7.7],[0.6,-2.8],[1.7,-8.6],[2.6,-5.7],[3.7,-12.7],[4.6,-1.8],[5.7,2.6],[6.6,-3.6],[7.7,1.6],[8.6,-9.8],[9.7,7.7],[10.6,-0.7],[11.7,6.4],[12.6,-6.6],[13.7,10.8],[14.6,4.4],[15.7,8.6],[16.6,2.7],[17.7,11.4],[18.6,-4.7],[19.7,7.4],[20.6,-0.6],[21.7,12.7],[22.6,3.4],[23.7,9.6],[24.6,-3.8],[25.7,11.6],[26.6,0.4],[27.7,6.6],[28.6,-2.7],[29.7,13.6],[30.6,5.4],
  [-19.6,7.6],[-18.4,0.8],[-17.5,-13.5],[-16.6,3.7],[-15.5,-6.6],[-14.4,6.3],[-13.5,-14.7],[-12.4,-8.4],[-11.5,0.6],[-10.4,-4.4],[-9.5,-17.5],[-8.4,-1.4],[-7.5,-6.5],[-6.4,-18.6],[-5.5,5.6],[-4.4,-4.4],[-3.5,-18.5],[-2.4,0.6],[-1.5,-4.4],[-0.4,-9.6],[0.5,10.6],[1.4,-4.4],[2.5,7.7],[3.4,-6.5],[4.5,11.7],[5.4,4.6],[6.5,-12.4],[7.4,14.4],[8.5,3.5],[9.4,-1.5],[10.5,13.6],[11.4,-2.6],[12.5,7.4],[13.4,-13.6],[14.5,9.5],[15.4,-2.5],[16.5,14.6],[17.4,-1.4],[18.5,6.6],[19.4,-7.5],[20.5,9.4],[21.4,0.5],[22.5,18.5],[23.4,-7.4],[24.5,1.5],[25.4,14.4],[26.5,-7.6],[27.4,3.5],[28.5,9.5],[29.4,-8.5],
  [-22.6,-10.6],[-21.4,-13.5],[-20.5,-0.5],[-19.5,-8.6],[-18.7,-20.4],[-17.6,-15.5],[-16.7,-24.6],[-15.7,-1.7],[-14.6,-24.5],[-13.7,9.6],[-12.6,-0.6],[-11.6,-20.7],[-10.7,6.6],[-9.6,-22.5],[-8.7,12.6],[-7.6,-0.5],[-6.7,2.7],[-5.6,-26.4],[-4.7,14.6],[-3.6,-0.6],[-2.7,4.5],[-1.6,6.6],[-0.7,-14.7],[0.4,-24.6],[1.5,12.4],[2.4,1.6],[3.5,-10.4],[4.4,9.6],[5.5,-6.4],[6.4,7.6],[7.5,-4.5],[8.4,11.4],[9.5,-14.6],[10.4,1.4],[11.5,-9.5],[12.4,17.6],[13.5,-1.5],[14.4,6.5],[15.5,13.4],[16.4,-6.5],[17.5,4.4],[18.4,13.5],[19.5,1.6],[20.4,-12.6],[21.5,3.5],[22.4,-1.4],[23.5,5.5],[24.4,20.6],[25.5,-10.5],[26.4,16.4],
  [-23.6,-6.4],[-21.7,4.6],[-20.6,-18.4],[-19.7,-3.6],[-18.4,10.6],[-17.7,-10.4],[-16.4,-19.6],[-15.6,1.4],[-14.4,-1.6],[-13.7,-18.4],[-12.6,5.6],[-11.4,-4.6],[-10.6,-9.4],[-9.4,0.4],[-8.6,-16.4],[-7.4,3.4],[-6.6,-7.6],[-5.4,-16.6],[-4.6,9.4],[-3.4,-3.6],[-2.6,-15.4],[-1.4,3.6],[-0.6,-11.4],[0.7,14.6],[1.6,-2.4],[2.7,-13.4],[3.6,4.6],[4.7,-4.4],[5.6,10.4],[6.7,0.6],[7.6,-7.4],[8.7,5.4],[9.6,-6.6],[10.7,11.4],[11.6,-11.6],[12.7,1.6],[13.6,6.4],[14.7,-9.4],[15.6,4.6],[16.7,10.4],[17.6,-3.6],[18.7,8.6],[19.6,-4.4],[20.7,14.4],[21.6,-7.6],[22.7,9.4],[23.6,1.4],[24.7,6.6],[25.6,-1.6],[27.6,11.4],
  [-22.4,-2.5],[-20.4,-6.5],[-18.5,-12.4],[-16.5,-11.5],[-14.5,-3.5],[-12.5,-12.5],[-10.5,-0.5],[-8.5,-10.5],[-6.5,-4.5],[-4.5,0.5],[-2.5,-12.5],[-0.5,0.5],[1.5,-11.5],[3.5,1.5],[5.5,-8.5],[7.5,6.5],[9.5,4.5],[11.5,-0.5],[13.5,4.5],[15.5,-5.5],[17.5,7.5],[19.5,10.5],[21.5,-4.5],[23.5,12.5],[25.5,5.5],
  [-9.5,-20.5],[-3.5,-20.5],[2.5,-16.5],[6.5,-17.5],[-12.5,15.5],[-6.5,18.5],[0.5,19.5],[5.5,21.5],[10.5,22.5],[16.5,18.5],[20.5,22.5],[27.5,18.5],[30.5,19.5],[33.5,17.5],[31.5,-5.5],[35.5,-15.5],[-27.5,-13.5],[-29.5,-14.5],[-31.5,-1.5],[-26.5,-20.5],[-22.5,12.5],[-13.5,-26.5],[-7.5,-28.5],[2.5,-31.5],[12.5,-22.5]
];

var uniformPts = [
  [-55.6,15.6],[-58.6,5.8],[-57.2,-6.2],[-54.2,-7.3],[-51,-5.5],[-53.6,-23],[-46.6,-12.4],[-47.4,-8.7],[-44.6,-29.5],[-46.2,2.7],[-45.8,-3.3],[-48.1,-14.2],
  [-40.2,26.9],[-39.1,-34.2],[-37.3,-29],[-43.2,-3.6],[-40.5,1.9],[-39.4,6.2],[-38.2,10.1],[-38.2,5.4],[-37.5,5.4],[-35.6,5],[-37,-2.2],[-36.4,-2.7],[-39,-13.2],[-37.5,-15.5],[-36.2,-15.7],[-40.7,-18.7],[-37.5,-18.3],[-35,-21.2],[-36.2,-10.7],[-42.1,-7.2],[-44.1,-17.1],[-41.2,12.1],[-36.1,14.2],[-35.2,-7.1],[-38.1,0.2],[-42.2,8.1],[-36.1,1.2],[-40.1,-24.2],
  [-29.6,27.2],[-30,-47.1],[-32,-33.7],[-29.7,-32.4],[-34.5,-22.3],[-34.8,-11.2],[-33.1,13.2],[-31.2,16.1],[-29.1,18.2],[-27.2,20.1],[-26.1,10.2],[-28.2,8.1],[-30.1,6.2],[-32.2,7.1],[-34.1,4.2],[-33.2,-1.1],[-31.1,-3.2],[-29.2,-2.1],[-27.1,-5.2],[-25.2,-3.1],[-34.1,-8.2],[-32.2,-10.1],[-30.1,-13.2],[-28.2,-11.1],[-26.1,-9.2],[-33.2,-16.1],[-31.1,-18.2],[-29.2,-20.1],[-27.1,-17.2],[-25.2,-14.1],[-30.1,1.2],[-27.2,3.1],[-25.1,7.2],[-28.1,-7.2],[-32.2,-25.1],[-26.1,-22.2],[-30.2,11.1],[-26.2,15.1],[-28.1,-27.2],[-34.1,19.2],[-25.2,-25.1],[-31.1,-7.2],
  [-20,39],[-22,-30.5],[-20.7,-32.3],[-18.2,-33.5],[-19.1,-42.3],[-24.1,22.2],[-21.2,20.1],[-18.1,21.2],[-16.2,24.1],[-23.1,15.2],[-20.2,13.1],[-17.1,16.2],[-15.2,14.1],[-24.1,9.2],[-22.2,7.1],[-19.1,10.2],[-16.2,8.1],[-23.1,3.2],[-21.2,1.1],[-18.1,4.2],[-15.2,2.1],[-24.1,-2.2],[-21.2,-4.1],[-19.1,-1.2],[-16.2,-3.1],[-23.1,-8.2],[-20.2,-10.1],[-17.1,-7.2],[-15.2,-9.1],[-24.1,-13.2],[-21.2,-15.1],[-18.1,-12.2],[-16.2,-14.1],[-22.1,-19.2],[-19.2,-18.1],[-17.1,-21.2],[-24.2,-24.1],[-20.1,-25.2],[-16.2,-27.1],[-22.1,11.2],[-18.2,-5.1],[-15.1,-18.2],[-23.2,-1.1],[-20.1,5.2],[-17.2,0.1],[-21.1,-7.2],[-19.2,15.1],[-15.1,6.2],[-24.2,5.1],[-16.1,-10.2],[-22.2,-12.1],[-18.1,8.2],
  [-12.3,40.7],[-9.3,42.8],[-14.1,26.9],[-8.2,30],[-9.4,26.1],[-13.2,-32.9],[-10.6,-37.8],[-9.3,-60],[-12.1,-28.2],[-7.2,-30.1],[-14.1,21.2],[-11.2,19.1],[-8.1,22.2],[-6.2,18.1],[-13.1,15.2],[-10.2,13.1],[-7.1,15.2],[-5.2,12.1],[-14.1,9.2],[-12.2,7.1],[-9.1,9.2],[-6.2,6.1],[-13.1,3.2],[-11.2,1.1],[-8.1,4.2],[-5.2,2.1],[-14.1,-2.2],[-12.2,-4.1],[-9.1,-1.2],[-6.2,-3.1],[-13.1,-8.2],[-10.2,-6.1],[-7.1,-9.2],[-5.2,-7.1],[-14.1,-12.2],[-11.2,-13.1],[-8.1,-11.2],[-6.2,-14.1],[-13.1,-17.2],[-10.2,-19.1],[-7.1,-16.2],[-5.2,-20.1],[-12.1,-23.2],[-8.2,-24.1],[-14.1,5.2],[-10.2,10.1],[-7.1,1.2],[-12.2,12.1],[-9.1,-15.2],[-6.2,-8.1],[-11.1,-2.2],[-8.2,17.1],[-5.1,-24.2],[-13.2,-21.1],[-10.1,3.2],[-6.2,10.1],[-14.2,-6.1],
  [3.4,-58],[-4.1,36.2],[2.1,35.1],[-2.2,28.1],[1.1,24.2],[4.2,26.1],[-4.1,20.2],[-1.2,17.1],[3.1,19.2],[-3.2,13.1],[0.1,11.2],[2.2,14.1],[4.1,10.2],[-4.2,7.1],[-1.1,5.2],[1.2,8.1],[3.1,4.2],[-3.2,1.1],[0.1,-1.2],[2.2,2.1],[4.1,-2.2],[-4.2,-5.1],[-2.1,-7.2],[1.2,-4.1],[3.1,-8.2],[-3.2,-11.1],[0.1,-13.2],[2.2,-10.1],[4.1,-14.2],[-4.2,-16.1],[-1.1,-18.2],[2.2,-20.1],[-3.1,-23.2],[0.2,-26.1],[3.1,-24.2],[-2.2,-33.1],[4.1,-30.2],[-1.2,2.1],[1.1,-9.2],[-3.1,9.2],[3.2,-16.1],[0.1,6.2],[-2.2,-2.1],[4.1,6.2],[1.2,15.1],[-4.1,-12.2],
  [7.1,36.2],[15,37.2],[7.1,32],[13.4,33.2],[12.5,31.5],[14.1,-45.2],[11.8,-37.4],[6.1,28.2],[9.2,25.1],[12.1,27.2],[14.2,22.1],[5.1,21.2],[8.2,19.1],[11.1,20.2],[13.2,16.1],[6.1,14.2],[9.2,12.1],[12.1,13.2],[14.2,10.1],[5.1,8.2],[7.2,6.1],[10.1,9.2],[13.2,5.1],[6.1,2.2],[9.2,0.1],[11.1,3.2],[14.2,1.1],[5.1,-3.2],[8.2,-5.1],[10.1,-2.2],[13.2,-4.1],[6.1,-9.2],[9.2,-11.1],[12.1,-8.2],[14.2,-12.1],[7.1,-14.2],[10.2,-16.1],[13.1,-18.2],[6.2,-20.1],[9.1,-23.2],[12.2,-26.1],[8.1,-30.2],[11.2,4.1],[7.1,11.2],[14.1,-6.2],[5.2,17.1],[10.1,-7.2],[12.2,19.1],[8.1,-1.2],[13.2,8.1],
  [19.8,50.6],[23.4,44.7],[25.3,41.7],[17.5,-31.7],[20,-33.2],[21.4,-39],[16.1,30.2],[19.2,27.1],[22.1,29.2],[24.2,25.1],[17.1,22.2],[20.2,20.1],[23.1,21.2],[15.2,17.1],[18.1,15.2],[21.2,16.1],[24.1,14.2],[16.2,11.1],[19.1,9.2],[22.2,10.1],[24.1,7.2],[15.2,5.1],[18.1,4.2],[21.2,6.1],[23.1,2.2],[16.2,-1.1],[19.1,-2.2],[22.2,-4.1],[24.1,-1.2],[17.2,-7.1],[20.1,-6.2],[23.2,-9.1],[15.1,-11.2],[18.2,-13.1],[21.1,-12.2],[24.2,-15.1],[16.1,-17.2],[19.2,-19.1],[22.1,-21.2],[17.2,-25.1],[23.1,-27.2],[20.2,1.1],[18.1,9.2],[22.2,13.1],[16.1,-4.2],[20.2,-10.1],[24.1,3.2],[21.2,24.1],
  [32.9,49.1],[26.4,40.3],[25.6,36.2],[33.2,33.5],[29.2,32.9],[25.8,-30.9],[27.8,-32.8],[27.1,27.2],[30.2,24.1],[33.1,26.2],[26.2,20.1],[29.1,18.2],[32.2,19.1],[34.1,15.2],[27.2,13.1],[30.1,11.2],[33.2,12.1],[26.1,8.2],[28.2,6.1],[31.1,7.2],[34.2,5.1],[27.1,1.2],[30.2,-1.1],[33.1,2.2],[26.2,-4.1],[29.1,-6.2],[32.2,-3.1],[34.1,-8.2],[27.2,-10.1],[30.1,-12.2],[33.2,-14.1],[26.1,-17.2],[29.2,-19.1],[31.1,-24.2],[28.2,15.1],[32.1,-9.2],[25.2,4.1],
  [38.9,19.1],[38.7,25.9],[36.9,28],[42,10.4],[44.6,12.5],[44,-20.4],[36.1,18.2],[38.2,13.1],[40.1,15.2],[37.2,8.1],[39.1,5.2],[41.2,7.1],[43.1,3.2],[36.2,1.1],[38.1,-2.2],[40.2,-1.1],[42.1,-5.2],[37.2,-7.1],[39.1,-10.2],[41.2,-12.1],[36.1,-13.2],[43.2,-9.1],[38.1,-17.2],[44.2,-3.1],[40.1,20.2],[35.2,-4.1],
  [46.9,-24.3],[51.4,-10],[52.3,-2.2],[52,13.6],[46.9,13.9],[50.5,7.1],[48.9,-4.4],[49.1,-6.4],[47.1,2.2],[46.2,-9.1],[49.1,-1.2],[46.1,6.2],
  [-34.6,-4.6],[-33.4,9.6],[-31.6,-14.4],[-30.4,3.6],[-28.6,-9.5],[-27.4,12.6],[-25.6,-6.6],[-24.4,0.6],[-22.6,-16.4],[-21.4,8.4],[-19.6,-4.4],[-18.4,12.4],[-16.6,-8.6],[-15.4,-0.4],[-13.6,10.4],[-12.4,-14.6],[-10.6,5.4],[-9.4,-4.6],[-7.6,8.6],[-6.4,-11.4],[-4.6,3.6],[-3.4,-6.4],[-1.6,11.6],[-0.4,-15.6],[1.4,5.6],[2.6,-4.4],[4.4,12.4],[5.6,-11.6],[7.4,3.4],[8.6,-7.4],[10.4,7.6],[11.6,-13.4],[13.4,10.6],[14.6,-1.6],[16.4,14.6],[17.6,-9.6],[19.4,5.4],[20.6,-15.4],[22.4,7.4],[23.6,-3.4],[25.4,10.4],[26.6,-10.4],[28.4,3.6],[29.6,-7.6],[31.4,9.6],[32.6,-0.4],[34.4,-12.6],[35.6,7.6],[37.4,-5.4],[38.6,2.4],
  [-33.5,2.5],[-32.5,-6.5],[-29.5,-0.5],[-28.5,13.5],[-26.5,-12.5],[-23.5,-4.5],[-22.5,5.5],[-20.5,-13.5],[-17.5,-1.5],[-16.5,6.5],[-14.5,-5.5],[-13.5,-11.5],[-11.5,8.5],[-10.5,-8.5],[-8.5,1.5],[-7.5,-18.5],[-5.5,14.5],[-4.5,-1.5],[-2.5,6.5],[-1.5,-10.5],[0.5,16.5],[1.5,-6.5],[3.5,8.5],[4.5,-17.5],[6.5,11.5],[7.5,-2.5],[9.5,14.5],[10.5,-4.5],[12.5,2.5],[13.5,-8.5],[15.5,7.5],[16.5,-12.5],[18.5,0.5],[19.5,11.5],[21.5,-7.5],[22.5,17.5],[24.5,-11.5],[25.5,1.5],[27.5,-14.5],[28.5,9.5],[30.5,-2.5],[31.5,14.5],[33.5,-5.5],[34.5,3.5],[36.5,11.5],[37.5,-14.5],[39.5,8.5],[-36.5,-12.5],[-37.5,15.5],[-24.5,16.5],
  [-29.4,6.4],[-26.6,-2.6],[-21.6,-10.6],[-18.6,3.6],[-15.6,-16.6],[-12.6,0.6],[-9.6,12.6],[-6.6,-5.6],[-3.6,-16.6],[-0.6,7.4],[2.4,0.4],[5.4,6.4],[8.4,-14.6],[11.4,0.4],[14.4,-5.4],[17.4,5.4],[20.4,-2.6],[23.4,12.6],[26.4,4.4],[29.4,-12.4],[32.4,5.4],[35.4,-1.6],[-31.4,-2.6],[-19.4,-7.4],[-8.4,-2.4],[3.6,-1.6],[12.6,5.4],[24.6,8.6],[18.6,-5.6],[6.6,-7.4],
  [-38.6,-8.6],[-36.4,7.4],[-34.6,-16.6],[-32.4,-2.4],[-30.6,9.6],[-28.4,-4.4],[-26.6,5.6],[-24.4,-9.4],[-22.6,1.6],[-20.4,-1.6],[-18.6,-15.6],[-16.4,2.6],[-14.6,-12.6],[-12.4,4.4],[-10.6,-1.6],[-8.4,-12.4],[-6.6,4.6],[-4.4,-8.4],[-2.6,1.6],[-0.4,-5.4],[1.6,9.4],[3.4,-10.4],[5.4,0.6],[7.6,-10.6],[9.4,2.4],[11.4,-4.4],[13.6,0.6],[15.4,-6.6],[17.6,8.6],[19.4,-11.4],[21.6,2.6],[23.4,-7.4],[25.6,6.4],[27.4,-3.6],[29.6,4.4],[31.4,-6.6],[33.6,8.4],[35.4,-9.4],[37.6,4.4],[39.4,-3.4],
  [-35.5,-0.5],[-31.5,1.5],[-27.5,-1.5],[-23.5,3.5],[-19.5,0.5],[-15.5,-7.5],[-11.5,-6.5],[-7.5,-3.5],[-3.5,-3.5],[0.5,-1.5],[4.5,-6.5],[8.5,0.5],[12.5,-10.5],[16.5,1.5],[20.5,5.5],[24.5,-5.5],[28.5,-9.5],[32.5,1.5],[36.5,-6.5],[40.5,-0.5],
  [-33.5,12.5],[-29.5,15.5],[-25.5,11.5],[-21.5,14.5],[-17.5,9.5],[-13.5,17.5],[-9.5,7.5],[-5.5,9.5],[-1.5,13.5],[2.5,11.5],[6.5,16.5],[10.5,12.5],[14.5,8.5],[18.5,17.5],[22.5,4.5],[26.5,14.5],[30.5,17.5],[34.5,10.5],[38.5,12.5],[42.5,7.5],
  [-31.5,-17.5],[-27.5,-19.5],[-23.5,-12.5],[-19.5,-20.5],[-15.5,-13.5],[-11.5,-17.5],[-7.5,-13.5],[-3.5,-19.5],[0.5,-10.5],[4.5,-13.5],[8.5,-18.5],[12.5,-16.5],[16.5,-19.5],[20.5,-8.5],[24.5,-18.5],[28.5,-17.5],[32.5,-13.5],[36.5,-17.5],[40.5,-8.5],[42.5,-14.5]
];

var texturedFit = [[-63.4, -15.7], [69.3, 18.4]];
var uniformFit = [[-70.6, -10.2], [69.6, 8.1]];
var angleTicks = [-60, -40, -20, 0, 20, 40, 60];

// ---- drawing
var w = 966, h = 1118;
var ink = "#231f20", grey = "#808285", red = "#ed1c24";
var fmt = d3.format("d");

var svg = d3.select("#chart").append("svg")
            .attr("width", w)
            .attr("height", h);

svg.append("rect").attr("width", w).attr("height", h).attr("fill", "#fff");

// panel A
var yA = d3.scaleLinear().domain([-5, 50]).range([120.5, 504.3]);
var panelLeft = [103.3, 317.3, 523.3, 733.3];
var panelW = 192;
var trajSets = [texLeft, texRight, uniLeft, uniRight];
var trajColor = [grey, grey, ink, ink];
var trajWidth = [1.7, 1.7, 1.5, 1.5];
// labels at the axis ends are nudged inwards, as in the original layout
var endShift = [[0, -5.5], [8, -6], [13, -7.5], [12.5, -5]];

trajSets.forEach(function(paths, i) {
  var x = d3.scaleLinear().domain([-20, 20]).range([panelLeft[i], panelLeft[i] + panelW]);

  svg.append("clipPath").attr("id", "clipA" + i)
     .append("rect")
     .attr("x", x(-20)).attr("y", yA(-5))
     .attr("width", x(20) - x(-20)).attr("height", yA(50) - yA(-5));

  var line = d3.line()
               .x(function(d) { return x(d[0]); })
               .y(function(d) { return yA(d[1]); })
               .curve(d3.curveMonotoneY);

  svg.append("g").attr("clip-path", "url(#clipA" + i + ")")
     .selectAll("path")
     .data(paths)
     .enter()
     .append("path")
     .attr("d", function(d) { return line(stem.concat(d)); })
     .attr("fill", "none")
     .attr("stroke", trajColor[i])
     .attr("stroke-width", trajWidth[i]);

  // straight-ahead reference
  svg.append("line")
     .attr("x1", x(0)).attr("x2", x(0))
     .attr("y1", yA(-5)).attr("y2", yA(50))
     .attr("stroke", red)
     .attr("stroke-width", 2.2)
     .attr("stroke-dasharray", "4,2.5");

  svg.append("g").attr("class", "axis")
     .attr("transform", "translate(0,536.7)")
     .call(d3.axisBottom(x).tickValues(devTicks).tickSize(-5).tickSizeOuter(0).tickPadding(12)
             .tickFormat(function(d) { return devLabels.indexOf(d) >= 0 ? fmt(d) : ""; }))
     .call(function(g) {
       g.selectAll(".tick text").attr("dx", function(d) {
         return d === -20 ? endShift[i][0] : d === 20 ? endShift[i][1] : 0;
       });
     });

  svg.append("text")
     .attr("x", [200, 412, 620, 829][i]).attr("y", 73)
     .attr("text-anchor", "middle")
     .text(panelTitles[i]);
});

svg.append("g").attr("class", "axis")
   .attr("transform", "translate(85,0)")
   .call(d3.axisLeft(yA).tickValues(distTicks).tickSize(-5).tickSizeOuter(0).tickPadding(8).tickFormat(fmt));

svg.append("text").attr("x", 309).attr("y", 32).attr("text-anchor", "middle").text(groupTitles[0]);
svg.append("text").attr("x", 724).attr("y", 32).attr("text-anchor", "middle").text(groupTitles[1]);
svg.append("text").attr("class", "panel-letter").attr("x", 123).attr("y", 31)
   .style("font-size", "30px").text("A");
svg.append("text").attr("transform", "translate(31,330) rotate(-90)")
   .attr("text-anchor", "middle").text("Distance (cm)");
svg.append("text").attr("x", 516.5).attr("y", 600).attr("text-anchor", "middle").text("Deviation (cm)");

// panel B
var yB = d3.scaleLinear().domain([-60, 60]).range([1007.7, 655.7]);
var scatterLeft = [151.7, 580];
var scatterW = 352.3;
var scatterSets = [texturedPts, uniformPts];
var fits = [texturedFit, uniformFit];
var dotColor = [grey, ink];

scatterSets.forEach(function(pts, i) {
  var x = d3.scaleLinear().domain([-60, 60]).range([scatterLeft[i], scatterLeft[i] + scatterW]);

  svg.append("g")
     .selectAll("circle")
     .data(pts)
     .enter()
     .append("circle")
     .attr("cx", function(d) { return x(d[0]); })
     .attr("cy", function(d) { return yB(d[1]); })
     .attr("r", 1.8)
     .attr("fill", dotColor[i]);

  svg.append("line")
     .attr("x1", x(fits[i][0][0])).attr("y1", yB(fits[i][0][1]))
     .attr("x2", x(fits[i][1][0])).attr("y2", yB(fits[i][1][1]))
     .attr("stroke", red)
     .attr("stroke-width", 2.2);

  svg.append("g").attr("class", "axis")
     .attr("transform", "translate(0,1052.7)")
     .call(d3.axisBottom(x).tickValues(angleTicks).tickSize(-5).tickSizeOuter(0).tickPadding(8.5).tickFormat(fmt));
});

svg.append("g").attr("class", "axis")
   .attr("transform", "translate(85,0)")
   .call(d3.axisLeft(yB).tickValues(angleTicks).tickSize(-5).tickSizeOuter(0).tickPadding(8).tickFormat(fmt));

svg.append("text").attr("class", "panel-letter").attr("x", 118).attr("y", 671)
   .style("font-size", "28px").text("B");
svg.append("text").attr("transform", "translate(31,833) rotate(-90)")
   .attr("text-anchor", "middle").text("Deviation angle (degrees)");
svg.append("text").attr("x", 537.5).attr("y", 1106).attr("text-anchor", "middle").text("Approach angle (degrees)");
</script>
</body>
</html>
